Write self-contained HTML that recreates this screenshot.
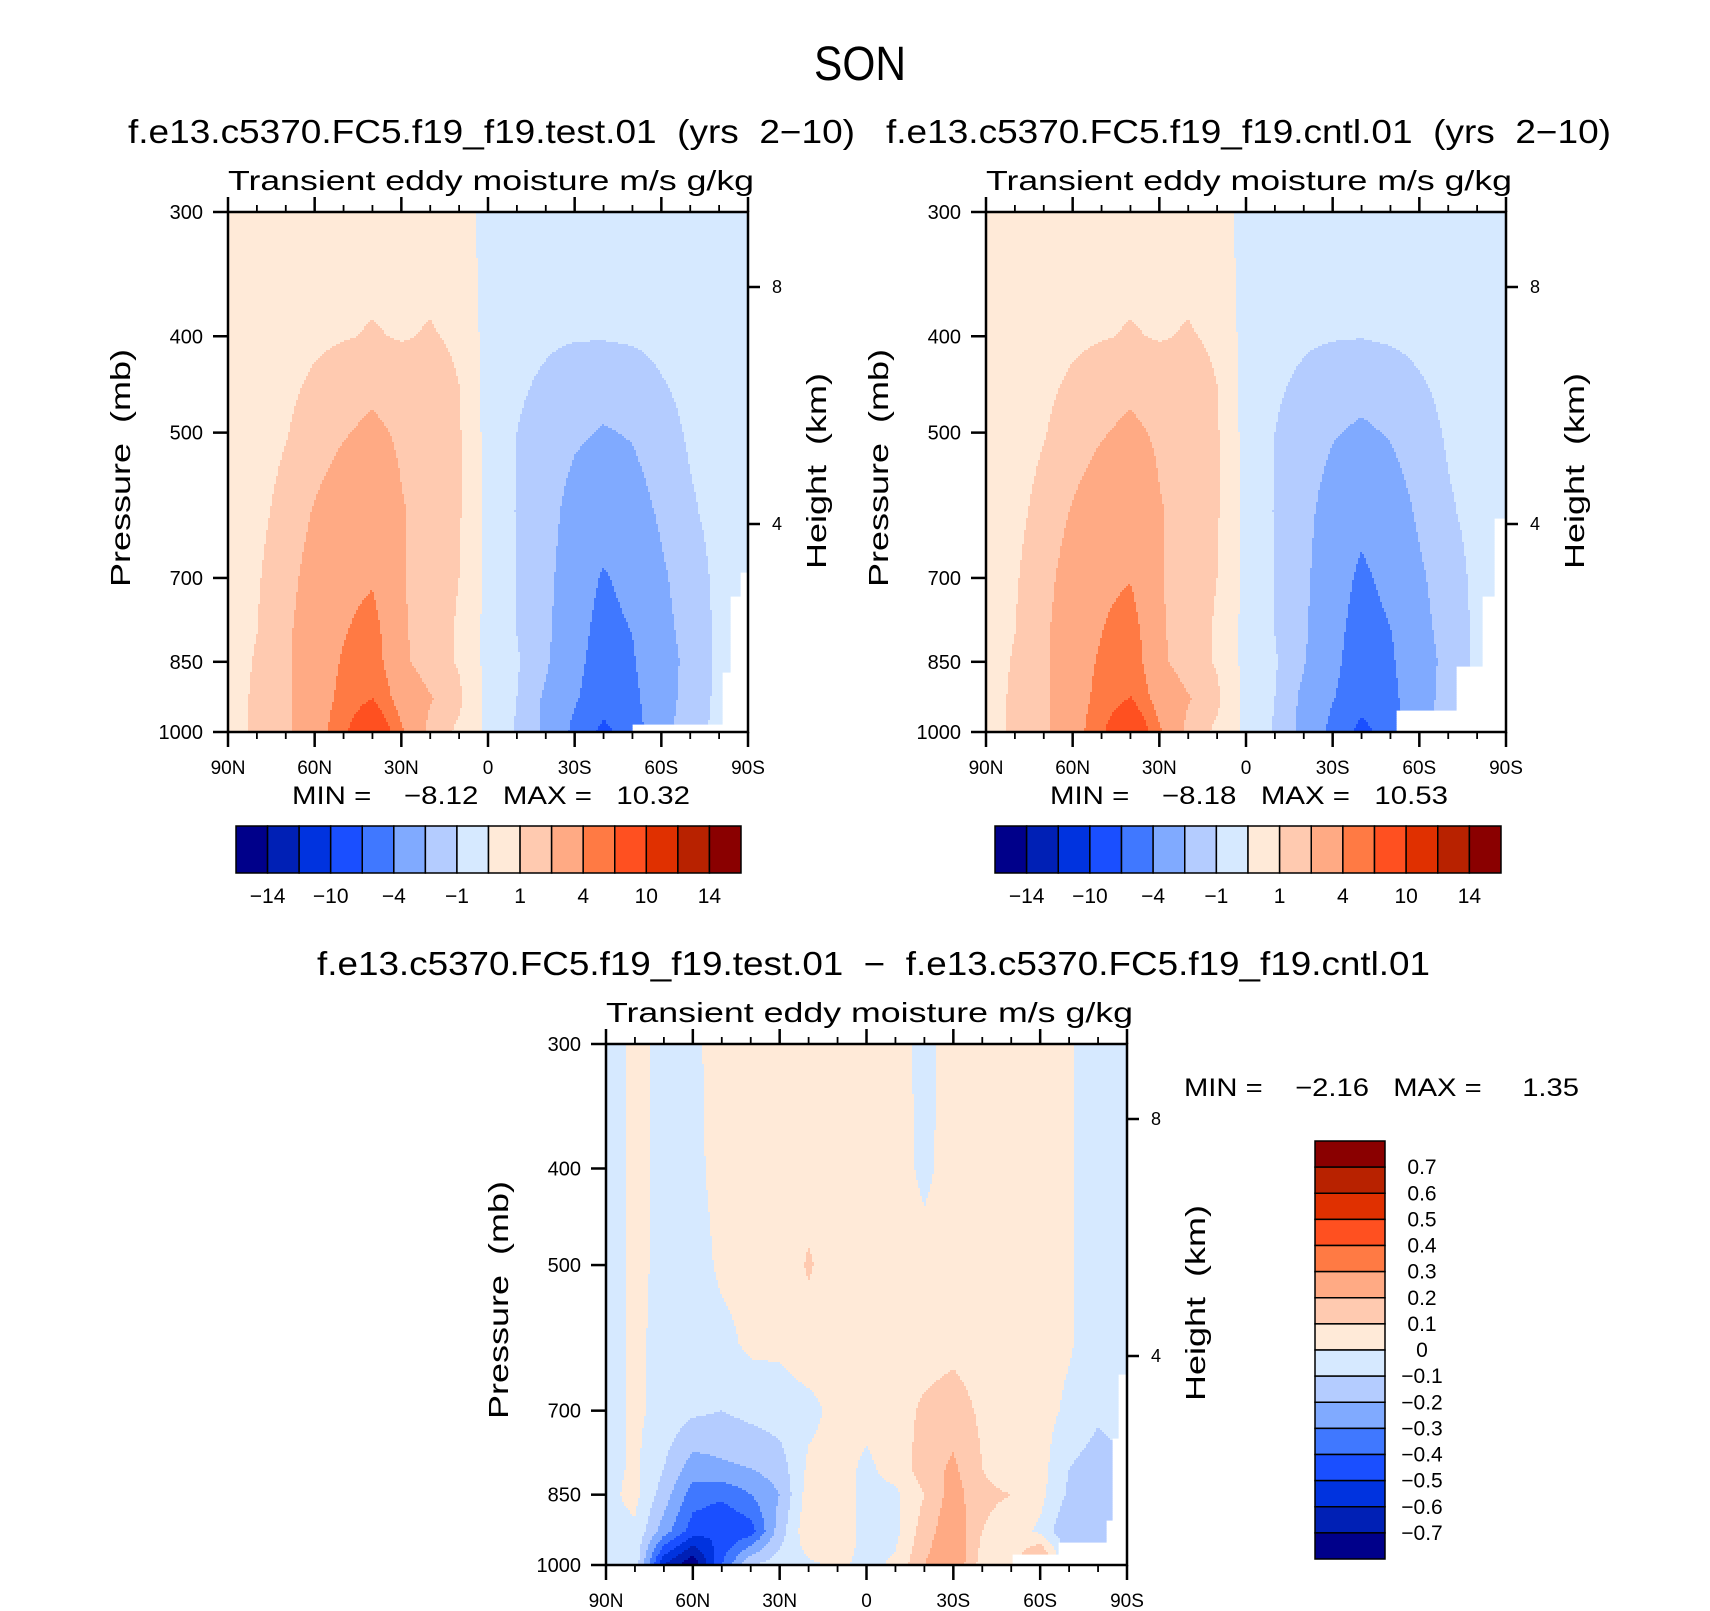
<!DOCTYPE html>
<html><head><meta charset="utf-8">
<style>
html,body{margin:0;padding:0;background:#fff;}
svg{display:block;font-family:"Liberation Sans",sans-serif;}
text{white-space:pre;}
</style></head>
<body>
<svg id="fig" width="1710" height="1611" viewBox="0 0 1710 1611" xmlns="http://www.w3.org/2000/svg" xml:space="preserve">
<text x="860" y="80" font-size="48" text-anchor="middle" textLength="92" lengthAdjust="spacingAndGlyphs">SON</text>
<text x="128" y="143" font-size="33" textLength="727" lengthAdjust="spacingAndGlyphs">f.e13.c5370.FC5.f19_f19.test.01  (yrs  2−10)</text>
<text x="886" y="143" font-size="33" textLength="725" lengthAdjust="spacingAndGlyphs">f.e13.c5370.FC5.f19_f19.cntl.01  (yrs  2−10)</text>
<text x="317" y="975" font-size="33" textLength="1113" lengthAdjust="spacingAndGlyphs">f.e13.c5370.FC5.f19_f19.test.01  −  f.e13.c5370.FC5.f19_f19.cntl.01</text>
</svg>
<script>
// ---- data ----
const lats = [90,80,70,60,50,40,30,20,10,0,-10,-20,-30,-40,-50,-60,-70,-80,-90];
const pressures = [300,400,500,600,700,800,850,925,1000];
const testValues = [
 [0.5,0.5,0.5,0.6,0.7,0.7,0.7,0.7,0.5,-0.4,-0.6,-0.7,-0.8,-0.8,-0.8,-0.7,-0.6,-0.5,-0.5],
 [0.5,0.5,0.7,0.85,0.95,1.05,0.95,1.05,0.9,-0.4,-0.8,-0.9,-0.95,-0.95,-0.9,-0.8,-0.7,-0.6,-0.5],
 [0.5,0.6,0.95,1.4,1.9,2.3,1.8,1.5,1.1,-0.35,-1.0,-1.3,-1.8,-2.1,-1.9,-1.3,-0.9,-0.7,-0.5],
 [0.5,0.75,1.3,2.1,2.8,3.2,2.1,1.5,1.1,-0.3,-1.05,-1.5,-2.5,-3.0,-2.6,-1.8,-1.1,-0.75,-0.5],
 [0.5,0.9,1.6,2.5,3.4,3.8,2.1,1.4,1.0,-0.3,-1.0,-1.6,-2.9,-4.2,-3.3,-2.2,-1.4,-0.8,-0.5],
 [0.5,1.0,1.8,2.7,3.9,4.8,2.2,1.4,0.9,-0.3,-1.0,-1.7,-3.2,-4.8,-4.0,-2.4,-1.6,-0.8,-0.5],
 [0.5,1.1,1.8,2.8,4.2,5.0,2.3,1.4,0.9,-0.3,-0.9,-1.8,-3.4,-5.0,-4.2,-2.5,-1.7,-0.8,-0.5],
 [0.5,1.2,1.8,2.8,4.6,6.0,3.0,2.1,1.2,-0.3,-1.0,-2.2,-3.8,-5.2,-4.5,-2.6,-1.5,-0.8,-0.5],
 [0.5,1.2,1.8,2.8,5.5,9.0,4.3,1.6,0.8,-0.2,-1.1,-2.2,-4.5,-6.5,-5.0,-2.5,-1.3,-0.8,-0.5]
];
const cntlValues = [
 [0.5,0.5,0.5,0.6,0.7,0.7,0.7,0.7,0.5,-0.4,-0.6,-0.7,-0.8,-0.8,-0.8,-0.7,-0.6,-0.5,-0.5],
 [0.5,0.5,0.7,0.85,0.95,1.05,0.95,1.05,0.9,-0.4,-0.8,-0.9,-0.95,-0.97,-0.9,-0.8,-0.7,-0.6,-0.5],
 [0.5,0.6,0.95,1.4,1.9,2.3,1.8,1.5,1.1,-0.35,-1.0,-1.35,-1.9,-2.2,-1.9,-1.35,-0.9,-0.7,-0.5],
 [0.5,0.75,1.3,2.1,2.8,3.3,2.1,1.5,1.1,-0.3,-1.05,-1.6,-2.6,-3.4,-2.7,-1.8,-1.1,-0.75,-0.5],
 [0.5,0.9,1.6,2.6,3.5,3.9,2.1,1.4,1.0,-0.3,-1.0,-1.7,-3.0,-4.4,-3.4,-2.2,-1.4,-0.8,-0.5],
 [0.5,1.0,1.8,2.8,4.0,5.0,2.2,1.4,0.9,-0.3,-1.0,-1.8,-3.3,-5.0,-4.1,-2.4,-1.6,-0.8,-0.5],
 [0.5,1.1,1.8,2.9,4.3,5.2,2.3,1.4,0.9,-0.3,-0.9,-1.9,-3.5,-5.1,-4.3,-2.5,-1.7,-0.8,-0.5],
 [0.5,1.2,1.8,2.9,4.7,6.1,3.0,2.1,1.2,-0.3,-1.0,-2.3,-3.9,-5.3,-4.6,-2.6,-1.5,-0.8,-0.5],
 [0.5,1.2,1.8,2.9,5.6,9.2,4.3,1.6,0.8,-0.2,-1.1,-2.3,-4.6,-6.6,-5.1,-2.5,-1.3,-0.8,-0.5]
];
const diffValues = [
 [-0.05,0.02,-0.02,-0.02,0.04,0.05,0.05,0.05,0.05,0.05,0.04,-0.03,0.04,0.05,0.05,0.03,0.01,-0.04,-0.05],
 [-0.05,0.02,-0.02,-0.03,0.04,0.05,0.05,0.06,0.05,0.05,0.04,-0.02,0.04,0.05,0.05,0.04,0.01,-0.04,-0.05],
 [-0.05,0.02,-0.02,-0.05,0.02,0.03,0.04,0.11,0.05,0.05,0.05,0.03,0.05,0.05,0.05,0.04,0.01,-0.04,-0.05],
 [-0.05,0.02,-0.03,-0.06,-0.03,0.02,0.02,0.06,0.04,0.04,0.05,0.05,0.07,0.05,0.05,0.04,0.01,-0.05,-0.05],
 [-0.05,0.02,-0.03,-0.08,-0.1,-0.07,-0.05,-0.03,0.03,0.03,0.05,0.12,0.15,0.08,0.05,0.04,-0.02,-0.08,-0.06],
 [-0.04,0.02,-0.1,-0.25,-0.22,-0.2,-0.15,0.02,0.04,-0.02,0.04,0.15,0.22,0.1,0.05,0.04,-0.1,-0.15,-0.1],
 [-0.03,0.03,-0.15,-0.35,-0.38,-0.3,-0.2,0.05,0.06,-0.03,-0.02,0.1,0.25,0.12,0.1,0.03,-0.12,-0.2,-0.1],
 [-0.03,-0.02,-0.25,-0.45,-0.5,-0.45,-0.15,0.08,0.1,-0.05,-0.03,0.15,0.28,0.1,0.05,-0.02,-0.2,-0.2,-0.1],
 [-0.05,-0.03,-0.6,-0.8,-0.4,-0.1,-0.05,-0.02,0.02,-0.03,0.02,0.2,0.3,0.05,0.05,0.3,-0.1,-0.1,-0.1]
];
const mainLevels = [-14,-12,-10,-6,-4,-2,-1,0,1,2,4,6,10,12,14];
const diffLevels = [-0.7,-0.6,-0.5,-0.4,-0.3,-0.2,-0.1,0,0.1,0.2,0.3,0.4,0.5,0.6,0.7];
const palette = ['#00008a','#0020b5','#0033df','#1a4fff','#4078ff','#80aaff','#b4ccff','#d6e9ff','#ffead8','#ffcab0','#ffaa84','#ff7a44','#ff5020','#e03000','#b82200','#8a0000'];
const mainBarLabels = ['−14','−10','−4','−1','1','4','10','14'];
const diffBarLabels = ['0.7','0.6','0.5','0.4','0.3','0.2','0.1','0','−0.1','−0.2','−0.3','−0.4','−0.5','−0.6','−0.7'];
const latTickLabels = ['90N','60N','30N','0','30S','60S','90S'];
const pressureTicks = [300,400,500,700,850,1000];
const heightTickLabels = ['8','4'];
const testMask = [[-50,-81,980],[-81,-84,870],[-84,-87,730],[-87,-90,690]];
const cntlMask = [[-52,-73,950],[-73,-82,860],[-82,-86,730],[-86,-90,610]];
const diffMask = [[-50.6,-66,977],[-66,-83,950],[-83,-85,902],[-85,-87,746],[-87,-90,644]];

const NS = 'http://www.w3.org/2000/svg';
const svg = document.getElementById('fig');
function mk(tag, attrs, parent){
  const e = document.createElementNS(NS, tag);
  for (const k in attrs) e.setAttribute(k, attrs[k]);
  (parent||svg).appendChild(e);
  return e;
}
function sample(vals, lat, p){
  let fx = (90 - lat) / 10; fx = Math.max(0, Math.min(18, fx));
  let i = Math.min(17, Math.floor(fx)); const tx = fx - i;
  const lp = Math.log(p);
  let j = 0;
  while (j < pressures.length - 2 && Math.log(pressures[j+1]) < lp) j++;
  const l0 = Math.log(pressures[j]), l1 = Math.log(pressures[j+1]);
  let ty = (lp - l0) / (l1 - l0); ty = Math.max(0, Math.min(1, ty));
  const a = vals[j][i]*(1-tx) + vals[j][i+1]*tx;
  const b = vals[j+1][i]*(1-tx) + vals[j+1][i+1]*tx;
  return a*(1-ty) + b*ty;
}
function levelIndex(v, levels){ let k=0; while(k<levels.length && v>=levels[k]) k++; return k; }

function drawPlot(name, X0, Y0, W, H, vals, levels, masks){
  const g = mk('g', {});
  
  
  const xOf = lat => X0 + (90 - lat) / 180 * W;
  const yOf = p => Y0 + H * Math.log(p/300) / Math.log(1000/300);
  const latOf = x => 90 - (x - X0) / W * 180;
  const pOf = y => 300 * Math.exp((y - Y0) / H * Math.log(1000/300));
  const fill = mk('g', {}, g);
  
  
  const dy = 2, dx = 2;
  const nx = Math.ceil(W / dx);
  for (let y = Y0; y < Y0 + H; y += dy) {
    const p = pOf(y + dy/2);
    let runStart = X0, runC = null;
    for (let k = 0; k <= nx; k++) {
      const x = Math.min(X0 + k*dx, X0 + W);
      let c = null;
      if (k < nx) {
        const lat = latOf(x + dx/2);
        let masked = false;
        for (const m of masks) if (lat <= m[0] && lat >= m[1] && p > m[2]) masked = true;
        c = masked ? 'none' : palette[levelIndex(sample(vals, lat, p), levels)];
      }
      if (c !== runC) {
        if (runC && runC !== 'none') {
          const r = mk('rect', {x: runStart, y: y, width: Math.min(x - runStart + 0.6, X0 + W - runStart), height: Math.min(dy + 0.6, Y0 + H - y), fill: runC}, fill);
          
          
        }
        runStart = x; runC = c;
      }
    }
  }
  const fr = mk('rect', {x: X0, y: Y0, width: W, height: H, fill: 'none', stroke: '#000', 'stroke-width': 2.5}, g);
  
  
  for (let lat = 90; lat >= -90; lat -= 10) {
    const x = xOf(lat); const major = lat % 30 === 0; const L = major ? 15 : 7;
    const t1 = mk('line', {x1: x, x2: x, y1: Y0 + H, y2: Y0 + H + L, stroke: '#000', 'stroke-width': major ? 2.5 : 1.8}, g);
    
    
    const t2 = mk('line', {x1: x, x2: x, y1: Y0, y2: Y0 - L, stroke: '#000', 'stroke-width': major ? 2.5 : 1.8}, g);
    
    
  }
  latTickLabels.forEach((lb, i) => {
    const t = mk('text', {x: xOf(90 - i*30), y: Y0 + H + 42, 'font-size': 19, 'text-anchor': 'middle'}, g);
    t.textContent = lb;
    
    
  });
  pressureTicks.forEach(p => {
    const y = yOf(p);
    const tk = mk('line', {x1: X0 - 15, x2: X0, y1: y, y2: y, stroke: '#000', 'stroke-width': 2.5}, g);
    
    
    const t = mk('text', {x: X0 - 25, y: y + 7, 'font-size': 20, 'text-anchor': 'end'}, g);
    t.textContent = p;
    
    
  });
  const hy = [Y0 + 75, Y0 + 312];
  heightTickLabels.forEach((lb, i) => {
    const tk = mk('line', {x1: X0 + W, x2: X0 + W + 12, y1: hy[i], y2: hy[i], stroke: '#000', 'stroke-width': 2.5}, g);
    
    
    const t = mk('text', {x: X0 + W + 24, y: hy[i] + 6, 'font-size': 18}, g);
    t.textContent = lb;
    
    
  });
  const yt = mk('text', {x: 0, y: 0, 'font-size': 28, 'text-anchor': 'middle', transform: `translate(${X0-98},${Y0+256}) rotate(-90)`, textLength: 238, lengthAdjust: 'spacingAndGlyphs'}, g);
  yt.textContent = 'Pressure  (mb)';
  
  
  const ht = mk('text', {x: 0, y: 0, 'font-size': 28, 'text-anchor': 'middle', transform: `translate(${X0+W+78},${Y0+259}) rotate(-90)`, textLength: 196, lengthAdjust: 'spacingAndGlyphs'}, g);
  ht.textContent = 'Height  (km)';
  
  
  const st = mk('text', {x: X0, y: Y0 - 22, 'font-size': 28, textLength: W + 6, lengthAdjust: 'spacingAndGlyphs'}, g);
  st.textContent = 'Transient eddy moisture m/s g/kg';
  
  
}

function hBar(name, x0, y0, w, h, labels){
  const g = mk('g', {});
  
  
  const bw = w / palette.length;
  palette.forEach((c, i) => {
    const r = mk('rect', {x: x0 + i*bw, y: y0, width: bw, height: h, fill: c, stroke: '#000', 'stroke-width': 1.5}, g);
    
    
  });
  labels.forEach((lb, i) => {
    const t = mk('text', {x: x0 + (2*i+1)*bw, y: y0 + h + 30, 'font-size': 21, 'text-anchor': 'middle'}, g);
    t.textContent = lb;
    
    
  });
}
function vBar(name, x0, y0, w, h, labels){
  const g = mk('g', {});
  
  
  const bh = h / palette.length;
  palette.slice().reverse().forEach((c, i) => {
    const r = mk('rect', {x: x0, y: y0 + i*bh, width: w, height: bh, fill: c, stroke: '#000', 'stroke-width': 1.5}, g);
    
    
  });
  labels.forEach((lb, i) => {
    const t = mk('text', {x: 1422, y: y0 + (i+1)*bh + 7, 'font-size': 21, 'text-anchor': 'middle'}, g);
    t.textContent = lb;
    
    
  });
}
function txt(name, s, x, y, size, len){
  const t = mk('text', {x: x, y: y, 'font-size': size, textLength: len, lengthAdjust: 'spacingAndGlyphs'});
  t.textContent = s;
  
  
}

drawPlot('test-panel', 228, 212, 520, 520, testValues, mainLevels, testMask);
drawPlot('cntl-panel', 986, 212, 520, 520, cntlValues, mainLevels, cntlMask);
drawPlot('diff-panel', 606, 1044, 521, 521, diffValues, diffLevels, diffMask);
txt('test-min-max', 'MIN =    −8.12   MAX =   10.32', 292, 804, 25, 398);
txt('cntl-min-max', 'MIN =    −8.18   MAX =   10.53', 1050, 804, 25, 398);
txt('diff-min-max', 'MIN =    −2.16   MAX =     1.35', 1184, 1096, 25, 395);
hBar('test-colorbar', 236, 826, 505, 47, mainBarLabels);
hBar('cntl-colorbar', 995, 826, 506, 47, mainBarLabels);
vBar('diff-colorbar', 1315, 1141, 70, 418, diffBarLabels);
</script>
</body></html>
